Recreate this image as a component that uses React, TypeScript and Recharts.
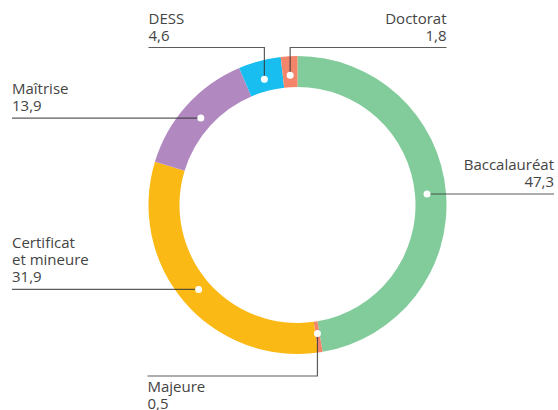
import { PieChart, Pie, Cell } from "recharts";

const categories = [
  "Baccalauréat",
  "Majeure",
  "Certificat et mineure",
  "Maîtrise",
  "DESS",
  "Doctorat",
];
const shares = [47.3, 0.5, 31.9, 13.9, 4.6, 1.8];
const sliceColors = ["#82CC9C", "#F3856B", "#FBB916", "#B189C0", "#18BEF0", "#F3856B"];

// where each label goes around the ring
const placement: Record<string, string> = {
  "Baccalauréat": "right",
  "Majeure": "bottom",
  "Certificat et mineure": "left",
  "Maîtrise": "left",
  "DESS": "topLeft",
  "Doctorat": "topRight",
};

const data = categories.map((name, i) => ({ name, value: shares[i] }));

const W = 558;
const H = 410;
const CX = 297.5;
const CY = 205;
const INNER = 118;
const OUTER = 149;
const RADIAN = Math.PI / 180;
const LEFT_EDGE = 12;
const RIGHT_EDGE = 554;
const LINE_H = 17;
const TEXT = "#444";

const fmt = (v: number) => v.toFixed(1).replace(".", ",");

const wrap = (s: string) => {
  if (s.length <= 14) return [s];
  const k = s.indexOf(" ");
  return [s.slice(0, k), s.slice(k + 1)];
};

const renderLabel = (props: any) => {
  const { cx, cy, midAngle, innerRadius, index } = props;
  const name = categories[index];
  const r = innerRadius + 12;
  const dx = cx + r * Math.cos(-midAngle * RADIAN);
  const dy = cy + r * Math.sin(-midAngle * RADIAN);
  const lines = [...wrap(name), fmt(shares[index])];
  const mode = placement[name];
  let path = "";
  let tx = 0;
  let anchor: "start" | "end" = "start";
  let baselines: number[] = [];

  if (mode === "left" || mode === "right") {
    const ex = mode === "left" ? LEFT_EDGE : RIGHT_EDGE;
    path = `M${dx},${dy}H${ex}`;
    tx = ex;
    anchor = mode === "left" ? "start" : "end";
    baselines = lines.map((_, i) => dy - 7 - (lines.length - 1 - i) * LINE_H);
  } else if (mode === "topLeft" || mode === "topRight") {
    const ly = cy - OUTER - 8.5;
    const ex = mode === "topLeft" ? cx - OUTER : cx + OUTER;
    path = `M${dx},${dy}V${ly}H${ex}`;
    tx = ex;
    anchor = mode === "topLeft" ? "start" : "end";
    baselines = lines.map((_, i) => ly - 7 - (lines.length - 1 - i) * LINE_H);
  } else {
    const ly = cy + OUTER + 22;
    const ex = cx - OUTER - 1;
    path = `M${dx},${dy}V${ly}H${ex}`;
    tx = ex;
    anchor = "start";
    baselines = lines.map((_, i) => ly + 16 + i * LINE_H);
  }

  return (
    <g key={`lbl-${index}`}>
      <path d={path} fill="none" stroke="#333" strokeOpacity={0.8} strokeWidth={1.2} />
      <circle cx={dx} cy={dy} r={3.5} fill="#fff" />
      {lines.map((t, i) => (
        <text
          key={i}
          x={tx}
          y={baselines[i]}
          textAnchor={anchor}
          fill={TEXT}
          fontSize={15}
          fontFamily="'Open Sans', sans-serif"
        >
          {t}
        </text>
      ))}
    </g>
  );
};

export default function App() {
  return (
    <div style={{ position: "absolute", left: 0, top: 0, width: W, height: H, background: "#fff" }}>
      <PieChart width={W} height={H} margin={{ top: 0, right: 0, bottom: 0, left: 0 }}>
        <Pie
          data={data}
          dataKey="value"
          nameKey="name"
          cx={CX}
          cy={CY}
          innerRadius={INNER}
          outerRadius={OUTER}
          startAngle={90}
          endAngle={-270}
          stroke="none"
          label={renderLabel}
          labelLine={false}
          isAnimationActive={false}
        >
          {data.map((d, i) => (
            <Cell key={d.name} fill={sliceColors[i]} />
          ))}
        </Pie>
      </PieChart>
    </div>
  );
}
